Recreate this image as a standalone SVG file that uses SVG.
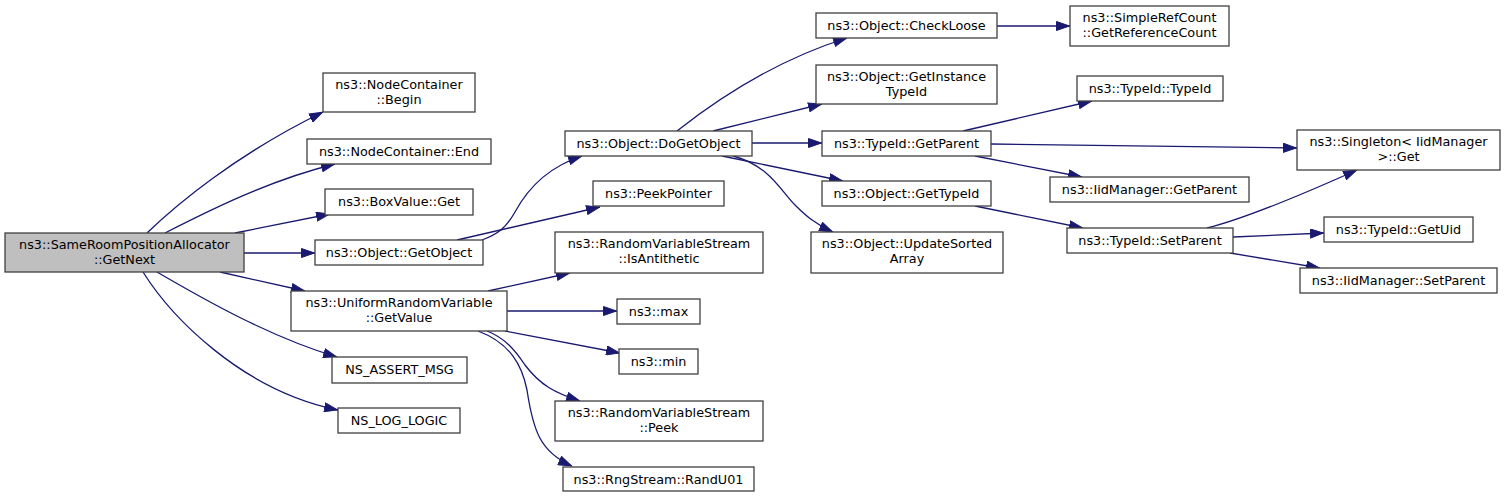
<svg xmlns="http://www.w3.org/2000/svg" width="1505" height="498" viewBox="0 0 1505 498">
<style>
.n rect{fill:#ffffff;stroke:#404040;stroke-width:1.3}
.n.main rect{fill:#bfbfbf}
.n text{font-family:"DejaVu Sans","Liberation Sans",sans-serif;font-size:12.8px;fill:#000;text-anchor:middle}
.e path{fill:none;stroke:#191970;stroke-width:1.3;marker-end:url(#arr)}
</style>
<defs>
<marker id="arr" viewBox="0 0 14 10" refX="14" refY="5" markerWidth="14" markerHeight="10" markerUnits="userSpaceOnUse" orient="auto">
<path d="M0.5,0.5 L13.5,5 L0.5,9.5 z" fill="#191970" stroke="#191970" stroke-width="1"/>
</marker>
</defs>
<rect width="1505" height="498" fill="#ffffff"/>
<g class="e" id="edges">
<path d="M147,233 C175,206 235,155 323,112"/>
<path d="M165,233 C210,210 270,180 335,164"/>
<path d="M235,233 L330,214"/>
<path d="M244,253 L315,253"/>
<path d="M220,272 L305,291"/>
<path d="M157,272 C205,300 270,337 337,357"/>
<path d="M143,272 C170,315 240,390 338,410"/>
<path d="M482,240 C498,234 506,228 515,212 C528,188 548,167 582,156"/>
<path d="M457,240 L600,207"/>
<path d="M488,291 L570,273"/>
<path d="M507,311 L617,311"/>
<path d="M505,331 L620,353"/>
<path d="M487,331 C505,338 515,350 525,365 C540,385 555,393 580,401"/>
<path d="M478,331 C510,343 522,365 527,390 C533,430 540,452 572,466"/>
<path d="M677,131 C710,105 770,62 847,38"/>
<path d="M713,131 L822,104"/>
<path d="M752,143 L822,143"/>
<path d="M722,156 L843,181"/>
<path d="M733,156 C770,166 780,190 795,205 C805,215 815,224 833,232"/>
<path d="M997,26 L1070,26"/>
<path d="M963,131 L1092,101"/>
<path d="M991,144 L1297,148"/>
<path d="M975,156 L1082,177"/>
<path d="M975,206 L1083,228"/>
<path d="M1207,228 C1240,220 1290,200 1357,170"/>
<path d="M1233,237 L1324,233"/>
<path d="M1230,253 L1320,268"/>
</g>
<g class="n main" id="n-getnext"><rect x="5" y="233" width="239" height="39"/><text x="124.5" y="249">ns3::SameRoomPositionAllocator</text><text x="124.5" y="264">::GetNext</text></g>
<g class="n" id="n-begin"><rect x="323" y="73" width="152" height="39"/><text x="399" y="89">ns3::NodeContainer</text><text x="399" y="104">::Begin</text></g>
<g class="n" id="n-end"><rect x="307" y="139" width="184" height="25"/><text x="399" y="156">ns3::NodeContainer::End</text></g>
<g class="n" id="n-boxget"><rect x="325" y="189" width="148" height="26"/><text x="399" y="206">ns3::BoxValue::Get</text></g>
<g class="n" id="n-getobject"><rect x="315" y="240" width="168" height="25"/><text x="399" y="257">ns3::Object::GetObject</text></g>
<g class="n" id="n-getvalue"><rect x="291" y="291" width="216" height="40"/><text x="399" y="307">ns3::UniformRandomVariable</text><text x="399" y="322">::GetValue</text></g>
<g class="n" id="n-assert"><rect x="332" y="357" width="135" height="26"/><text x="399.5" y="374">NS_ASSERT_MSG</text></g>
<g class="n" id="n-log"><rect x="338" y="408" width="122" height="25"/><text x="399" y="425">NS_LOG_LOGIC</text></g>
<g class="n" id="n-dogetobject"><rect x="565" y="131" width="187" height="25"/><text x="658.5" y="148">ns3::Object::DoGetObject</text></g>
<g class="n" id="n-peekpointer"><rect x="593" y="181" width="131" height="25"/><text x="658.5" y="198">ns3::PeekPointer</text></g>
<g class="n" id="n-isantithetic"><rect x="555" y="232" width="208" height="41"/><text x="659" y="248">ns3::RandomVariableStream</text><text x="659" y="263">::IsAntithetic</text></g>
<g class="n" id="n-max"><rect x="617" y="299" width="83" height="25"/><text x="658.5" y="316">ns3::max</text></g>
<g class="n" id="n-min"><rect x="619" y="349" width="79" height="25"/><text x="658.5" y="366">ns3::min</text></g>
<g class="n" id="n-peek"><rect x="555" y="401" width="208" height="40"/><text x="659" y="417">ns3::RandomVariableStream</text><text x="659" y="432">::Peek</text></g>
<g class="n" id="n-randu01"><rect x="563" y="467" width="191" height="24"/><text x="658.5" y="484">ns3::RngStream::RandU01</text></g>
<g class="n" id="n-checkloose"><rect x="816" y="13" width="181" height="25"/><text x="906.5" y="30">ns3::Object::CheckLoose</text></g>
<g class="n" id="n-getinstancetypeid"><rect x="816" y="65" width="181" height="39"/><text x="906.5" y="81">ns3::Object::GetInstance</text><text x="906.5" y="96">TypeId</text></g>
<g class="n" id="n-typeidgetparent"><rect x="822" y="131" width="169" height="25"/><text x="906.5" y="148">ns3::TypeId::GetParent</text></g>
<g class="n" id="n-gettypeid"><rect x="822" y="181" width="169" height="25"/><text x="906.5" y="198">ns3::Object::GetTypeId</text></g>
<g class="n" id="n-updatesorted"><rect x="811" y="232" width="192" height="41"/><text x="907" y="248">ns3::Object::UpdateSorted</text><text x="907" y="263">Array</text></g>
<g class="n" id="n-refcount"><rect x="1070" y="6" width="159" height="40"/><text x="1149.5" y="22">ns3::SimpleRefCount</text><text x="1149.5" y="37">::GetReferenceCount</text></g>
<g class="n" id="n-typeidtypeid"><rect x="1077" y="76" width="146" height="25"/><text x="1150" y="93">ns3::TypeId::TypeId</text></g>
<g class="n" id="n-iidgetparent"><rect x="1050" y="177" width="199" height="25"/><text x="1149.5" y="194">ns3::IidManager::GetParent</text></g>
<g class="n" id="n-typeidsetparent"><rect x="1067" y="228" width="166" height="25"/><text x="1150" y="245">ns3::TypeId::SetParent</text></g>
<g class="n" id="n-singleton"><rect x="1297" y="130" width="203" height="40"/><text x="1398.5" y="146">ns3::Singleton&lt; IidManager</text><text x="1398.5" y="161">&gt;::Get</text></g>
<g class="n" id="n-getuid"><rect x="1324" y="217" width="149" height="25"/><text x="1398.5" y="234">ns3::TypeId::GetUid</text></g>
<g class="n" id="n-iidsetparent"><rect x="1300" y="268" width="197" height="25"/><text x="1398.5" y="285">ns3::IidManager::SetParent</text></g>
</svg>
